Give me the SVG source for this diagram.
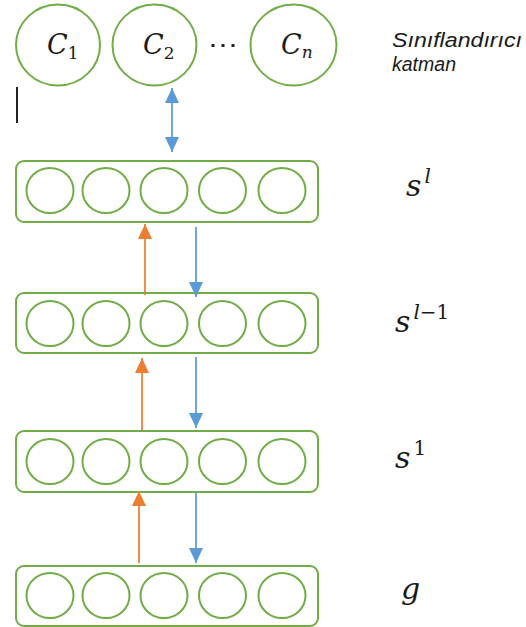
<svg xmlns="http://www.w3.org/2000/svg" width="526" height="627" viewBox="0 0 526 627">
  <style>
    .node { fill: #ffffff; stroke: #70ad47; stroke-width: 2; }
    .unit { fill: none; stroke: #70ad47; stroke-width: 2; }
    .math { font-family: "DejaVu Serif", "Liberation Serif", serif; font-style: italic; fill: #1a1a1a; }
    .up { font-style: normal; }
    .note { font-family: "Liberation Sans", Arial, sans-serif; font-style: italic; font-size: 20px; fill: #1a1a1a; }
    .fwd { stroke: #ed7d31; stroke-width: 1.75; fill: none; }
    .bwd { stroke: #5b9bd5; stroke-width: 1.75; fill: none; }
  </style>
  <defs>
    <marker id="headOrange" viewBox="0 0 15 14" refX="15" refY="7" markerWidth="15" markerHeight="14" markerUnits="userSpaceOnUse" orient="auto-start-reverse">
      <path d="M0 0 L15 7 L0 14 Z" fill="#ed7d31"/>
    </marker>
    <marker id="headBlue" viewBox="0 0 15 14" refX="15" refY="7" markerWidth="15" markerHeight="14" markerUnits="userSpaceOnUse" orient="auto-start-reverse">
      <path d="M0 0 L15 7 L0 14 Z" fill="#5b9bd5"/>
    </marker>
    <g id="units">
      <ellipse class="unit" cx="50" cy="0" rx="23.5" ry="22.5"/>
      <ellipse class="unit" cx="106" cy="0" rx="23.5" ry="22.5"/>
      <ellipse class="unit" cx="164" cy="0" rx="23.5" ry="22.5"/>
      <ellipse class="unit" cx="222.5" cy="0" rx="23.5" ry="22.5"/>
      <ellipse class="unit" cx="282" cy="0" rx="23.5" ry="22.5"/>
    </g>
  </defs>

  <rect width="526" height="627" fill="#ffffff"/>

  <!-- classifier layer -->
  <g id="c1">
    <ellipse class="node" cx="58" cy="45" rx="42" ry="40.5"/>
    <text class="math" x="47" y="54" font-size="27">C<tspan class="up" font-size="17" dy="5">1</tspan></text>
  </g>
  <g id="c2">
    <ellipse class="node" cx="154.5" cy="45" rx="42" ry="40.5"/>
    <text class="math" x="143" y="54" font-size="27">C<tspan class="up" font-size="17" dy="5">2</tspan></text>
  </g>
  <g id="ellipsis">
    <rect x="211.5" y="44" width="3" height="3" fill="#222"/>
    <rect x="221.5" y="44" width="3" height="3" fill="#222"/>
    <rect x="231.5" y="44" width="3" height="3" fill="#222"/>
  </g>
  <g id="cn">
    <ellipse class="node" cx="293.5" cy="45" rx="43" ry="40.5"/>
    <text class="math" x="281" y="54" font-size="27">C<tspan font-size="17" dy="4">n</tspan></text>
  </g>
  <g id="classifier-label">
    <text class="note" x="392" y="47" textLength="130" lengthAdjust="spacingAndGlyphs">Sınıflandırıcı</text>
    <text class="note" x="392" y="71" textLength="64" lengthAdjust="spacingAndGlyphs">katman</text>
  </g>

  <!-- text cursor mark -->
  <line x1="17" y1="87" x2="17" y2="123" stroke="#222" stroke-width="2"/>

  <!-- hidden layers -->
  <g id="layer-sl">
    <rect class="node" x="16" y="161" width="302" height="61" rx="8"/>
    <use href="#units" y="190.5"/>
    <text class="math" x="406" y="196" font-size="30">s<tspan font-size="20" dx="3" dy="-13">l</tspan></text>
  </g>
  <g id="layer-sl-1">
    <rect class="node" x="16" y="293" width="302" height="60" rx="8"/>
    <use href="#units" y="323.5"/>
    <text class="math" x="395" y="332" font-size="30">s<tspan font-size="20" dx="3" dy="-13">l</tspan><tspan class="up" font-size="20">−1</tspan></text>
  </g>
  <g id="layer-s1">
    <rect class="node" x="16" y="431" width="302" height="61" rx="8"/>
    <use href="#units" y="461.5"/>
    <text class="math" x="395" y="468" font-size="30">s<tspan class="up" font-size="20" dx="3" dy="-13">1</tspan></text>
  </g>
  <g id="layer-g">
    <rect class="node" x="16" y="566" width="302" height="60" rx="8"/>
    <use href="#units" y="595.5"/>
    <text class="math" x="401" y="599" font-size="30">g</text>
  </g>

  <!-- connectors -->
  <g id="connectors">
    <line class="bwd" x1="172" y1="88" x2="172" y2="152" marker-start="url(#headBlue)" marker-end="url(#headBlue)"/>
    <line class="fwd" x1="145" y1="295" x2="145" y2="224" marker-end="url(#headOrange)"/>
    <line class="bwd" x1="196" y1="227" x2="196" y2="297" marker-end="url(#headBlue)"/>
    <line class="fwd" x1="142" y1="430" x2="142" y2="358" marker-end="url(#headOrange)"/>
    <line class="bwd" x1="196" y1="357" x2="196" y2="428" marker-end="url(#headBlue)"/>
    <line class="fwd" x1="139" y1="563" x2="139" y2="491" marker-end="url(#headOrange)"/>
    <line class="bwd" x1="196" y1="492" x2="196" y2="563" marker-end="url(#headBlue)"/>
  </g>
</svg>
